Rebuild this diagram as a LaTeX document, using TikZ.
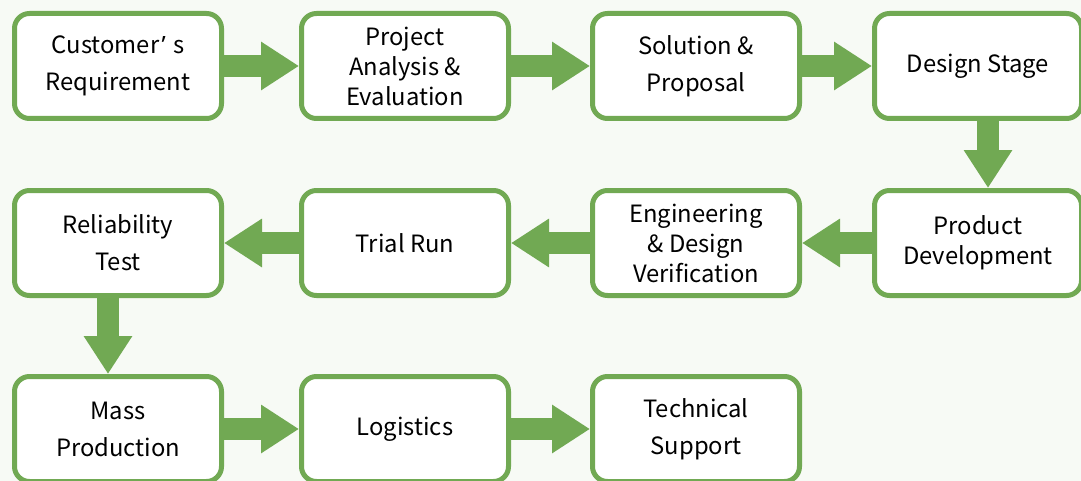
\documentclass[tikz,border=0pt]{standalone}
\usepackage{fontspec}
\setmainfont{Noto Sans CJK SC}
\newfontfamily\quotefont{Noto Sans}
\usetikzlibrary{arrows.meta, backgrounds}
\definecolor{stepgreen}{RGB}{113,169,83}
\definecolor{pagebg}{RGB}{247,250,245}
\tikzset{
    stage/.style={
        draw=stepgreen, fill=white, line width=2.5pt, rounded corners=7.5pt,
        minimum width=103.5pt, minimum height=52.5pt, inner sep=0pt,
        align=center, font=\fontsize{11.9}{18.5}\selectfont
    },
    tight/.style={font=\fontsize{11.9}{15}\selectfont},
    flow/.style={draw=stepgreen, line width=11pt, -{Triangle[length=19pt, width=23pt]}}
}

\begin{document}
\begin{tikzpicture}[x=0.5pt, y=-0.5pt]
    \useasboundingbox (0,0) rectangle (1081,481);
    \fill[pagebg] (0,0) rectangle (1081,481);

    % first row
    \node[stage] (cust) at (118,66) {Customer\hspace{0.1em}{\quotefont ’}\hspace{0.3em}s\\Requirement};
    \node[stage, tight] (proj) at (405,66) {Project\\Analysis \&\\Evaluation};
    \node[stage] (sol) at (696,66) {Solution \&\\Proposal};
    \node[stage] (design) at (978,66) {Design Stage};

    % second row, right to left
    \node[stage, tight] (prod) at (978,243) {Product\\Development};
    \node[stage, tight] (eng) at (696,243) {Engineering\\\& Design\\Verification};
    \node[stage] (trial) at (405,243) {Trial Run};
    \node[stage] (rel) at (118,243) {Reliability\\Test};

    % third row
    \node[stage] (mass) at (118,429) {Mass\\Production};
    \node[stage] (logi) at (405,429) {Logistics};
    \node[stage] (tech) at (696,429) {Technical\\Support};

    \draw[flow] (cust) -- (proj);
    \draw[flow] (proj) -- (sol);
    \draw[flow] (sol) -- (design);
    \draw[flow] ([xshift=5pt]design.south) -- ([xshift=5pt]prod.north);
    \draw[flow] (prod) -- (eng);
    \draw[flow] (eng) -- (trial);
    \draw[flow] (trial) -- (rel);
    \draw[flow] ([xshift=-5pt]rel.south) -- ([xshift=-5pt]mass.north);
    \draw[flow] (mass) -- (logi);
    \draw[flow] (logi) -- (tech);
\end{tikzpicture}
\end{document}
